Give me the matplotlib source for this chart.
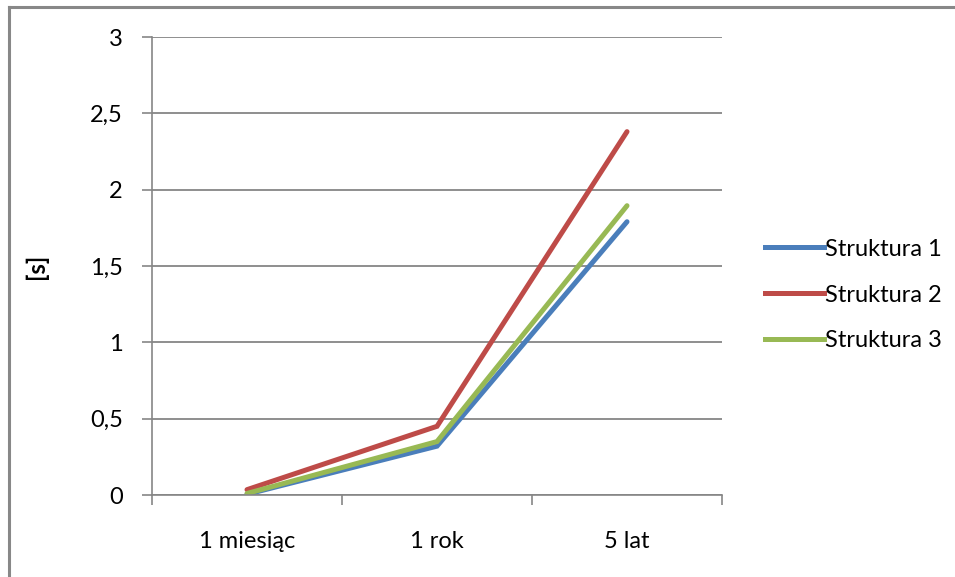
import matplotlib
matplotlib.use("Agg")
import matplotlib.pyplot as plt
from matplotlib.lines import Line2D

# data
categories = ["1 miesiąc", "1 rok", "5 lat"]
struktura_1 = [0.005, 0.32, 1.79]
struktura_2 = [0.035, 0.45, 2.38]
struktura_3 = [0.01, 0.35, 1.895]
series_names = ["Struktura 1", "Struktura 2", "Struktura 3"]
y_ticks = [0, 0.5, 1, 1.5, 2, 2.5, 3]
y_tick_labels = ["0", "0,5", "1", "1,5", "2", "2,5", "3"]

colors = ["#4A7EBB", "#BE4B48", "#98B954"]
grid_col = "#868686"

plt.rcParams["font.family"] = ["Lato", "DejaVu Sans"]

fig = plt.figure(figsize=(9.55, 5.77), dpi=100)
ax = fig.add_axes([152 / 955, 1 - 495 / 577, 570 / 955, 458 / 577])

x = list(range(len(categories)))
for vals, c in zip([struktura_1, struktura_2, struktura_3], colors):
    ax.plot(x, vals, color=c, lw=3.6, solid_capstyle="round", solid_joinstyle="miter")

ax.set_xlim(-0.5, len(categories) - 0.5)
ax.set_ylim(0, 3)
ax.set_yticks(y_ticks)
ax.set_yticklabels(y_tick_labels)
ax.set_xticks(x)
ax.set_xticklabels(categories)
ax.set_xticks([i - 0.5 for i in range(len(categories) + 1)], minor=True)
ax.tick_params(axis="x", which="major", length=0, pad=26, labelsize=17)
ax.tick_params(axis="x", which="minor", length=7, width=1.2, color=grid_col, direction="out")
ax.tick_params(axis="y", length=7, width=1.2, color=grid_col, pad=14, labelsize=17)
ax.yaxis.grid(True, color=grid_col, lw=1.3)
ax.set_axisbelow(True)

for side in ["top", "right"]:
    ax.spines[side].set_visible(False)
for side in ["left", "bottom"]:
    ax.spines[side].set_color(grid_col)
    ax.spines[side].set_linewidth(1.2)

ax.set_ylabel("[s]", fontsize=17, fontweight="bold", labelpad=30)

handles = [Line2D([], [], color=c, lw=3.6) for c in colors]
fig.legend(handles, series_names, loc="center left", bbox_to_anchor=(765 / 955, 1 - 295 / 577),
           frameon=False, fontsize=17, handlelength=2.5, handletextpad=0.05,
           labelspacing=1.05, borderaxespad=0, borderpad=0)

# outer frame: only top and left edges visible
fig.add_artist(Line2D([8.5 / 955, 8.5 / 955], [0, 1 - 7 / 577], color="#888888", lw=2.2,
                      transform=fig.transFigure))
fig.add_artist(Line2D([8.5 / 955, 1], [1 - 7 / 577, 1 - 7 / 577], color="#888888", lw=2.2,
                      transform=fig.transFigure))

fig.savefig("out.png", dpi=100)
